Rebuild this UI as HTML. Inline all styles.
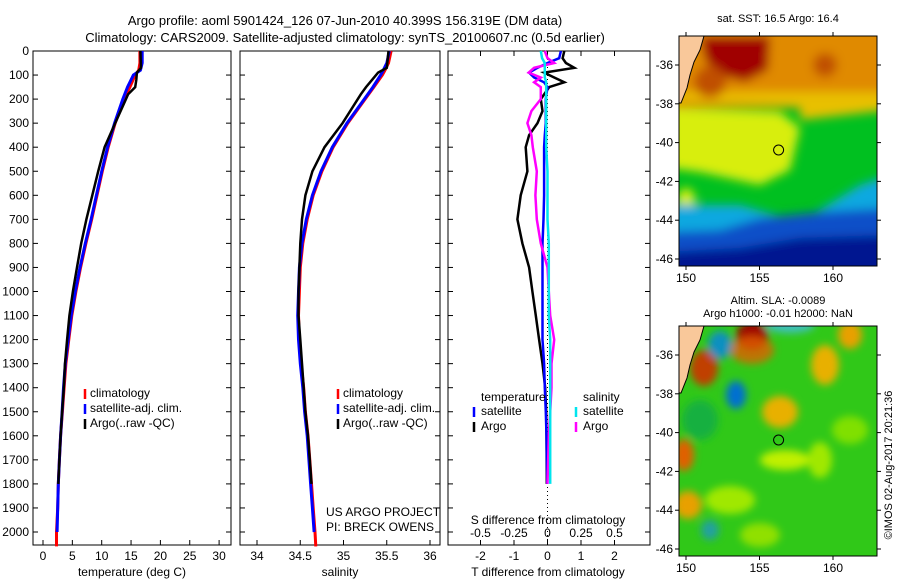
<!DOCTYPE html>
<html><head><meta charset="utf-8"><style>
body{margin:0;background:#fff;}
svg{display:block;font-family:"Liberation Sans",sans-serif;}
text{font-size:12px;fill:#000;}
</style></head><body>
<svg id="fig" width="900" height="580" viewBox="0 0 900 580">
<defs>
<filter id="blur" x="-20%" y="-20%" width="140%" height="140%"><feGaussianBlur stdDeviation="5"/></filter>
<filter id="blur2" x="-20%" y="-20%" width="140%" height="140%"><feGaussianBlur stdDeviation="4"/></filter>
<clipPath id="c1"><rect x="679" y="36" width="198" height="230"/></clipPath>
<clipPath id="c2"><rect x="679" y="326" width="198" height="230"/></clipPath>
</defs>
<text x="345" y="25" text-anchor="middle" style="font-size:13px">Argo profile: aoml 5901424_126 07-Jun-2010 40.399S 156.319E (DM data)</text>
<text x="345" y="42" text-anchor="middle" style="font-size:13px">Climatology: CARS2009. Satellite-adjusted climatology: synTS_20100607.nc (0.5d earlier)</text>

<g id="maps">
 <g clip-path="url(#c1)">
  <rect x="679" y="36" width="198" height="230" fill="#00c020"/>
  <g filter="url(#blur)">
   <rect x="670" y="20" width="220" height="88" fill="#e08a00"/>
   <path d="M670,100 L800,106 L800,120 L890,110 L890,92 L670,92Z" fill="#e8c000"/>
   <path d="M670,108 L780,112 L800,128 L790,170 L760,185 L700,172 L670,168Z" fill="#d8ee10"/>
   <path d="M700,36 L770,36 L768,70 L745,82 L720,75 L705,60Z" fill="#a00000"/>
   <ellipse cx="710" cy="82" rx="16" ry="16" fill="#c05000"/>
   <ellipse cx="825" cy="65" rx="12" ry="12" fill="#c05000"/>
   <ellipse cx="686" cy="200" rx="9" ry="12" fill="#d8ee10"/>
   <path d="M670,205 L740,205 L800,222 L860,185 L890,175 L890,280 L670,280Z" fill="#10a8e0"/>
   <path d="M670,232 L720,230 L760,218 L820,212 L890,208 L890,280 L670,280Z" fill="#0850c8"/>
   <path d="M670,252 L740,248 L800,238 L890,235 L890,280 L670,280Z" fill="#001490"/>
  </g>
  <path d="M679,36 L704,36 L700,50 L694,62 L690,75 L687,88 L681,103 L679,103Z" fill="#f9c89a" stroke="#000" stroke-width="1"/>
  <circle cx="778.6" cy="150" r="5" fill="none" stroke="#000"/>
 </g>
 <rect x="679" y="36" width="198" height="230" fill="none" stroke="#000"/>
 <text x="778" y="22" text-anchor="middle" style="font-size:11px">sat. SST: 16.5  Argo: 16.4</text>

 <g clip-path="url(#c2)">
  <rect x="679" y="326" width="198" height="230" fill="#30c818"/>
  <g filter="url(#blur2)">
   <ellipse cx="752" cy="336" rx="16" ry="14" fill="#a00000"/>
   <ellipse cx="752" cy="350" rx="22" ry="14" fill="#e06000" opacity="0.8"/>
   <ellipse cx="704" cy="368" rx="14" ry="18" fill="#c04000"/>
   <ellipse cx="720" cy="345" rx="12" ry="14" fill="#1090c0"/>
   <ellipse cx="736" cy="395" rx="10" ry="14" fill="#0070d0"/>
   <ellipse cx="780" cy="412" rx="18" ry="16" fill="#e8b000"/>
   <ellipse cx="825" cy="365" rx="14" ry="20" fill="#e8b000"/>
   <ellipse cx="850" cy="335" rx="12" ry="14" fill="#e8a000"/>
   <ellipse cx="790" cy="325" rx="25" ry="8" fill="#40c0c0"/>
   <ellipse cx="684" cy="455" rx="10" ry="16" fill="#e06000"/>
   <ellipse cx="688" cy="505" rx="14" ry="14" fill="#e8a000"/>
   <ellipse cx="710" cy="530" rx="9" ry="10" fill="#20a0a0"/>
   <ellipse cx="785" cy="460" rx="25" ry="10" fill="#c0f000"/>
   <ellipse cx="820" cy="460" rx="12" ry="18" fill="#a0e800"/>
   <ellipse cx="730" cy="500" rx="25" ry="14" fill="#a0e800"/>
   <ellipse cx="760" cy="535" rx="20" ry="12" fill="#90e000"/>
   <ellipse cx="850" cy="430" rx="18" ry="14" fill="#80e000"/>
   <ellipse cx="700" cy="420" rx="18" ry="20" fill="#18b040"/>
  </g>
  <path d="M679,326 L704,326 L700,340 L694,352 L690,365 L687,378 L681,393 L679,393Z" fill="#f9c89a" stroke="#000" stroke-width="1"/>
  <circle cx="778.6" cy="440" r="5" fill="none" stroke="#000"/>
 </g>
 <rect x="679" y="326" width="198" height="230" fill="none" stroke="#000"/>
 <text x="778" y="304" text-anchor="middle" style="font-size:11px">Altim. SLA: -0.0089</text>
 <text x="778" y="317" text-anchor="middle" style="font-size:11px">Argo h1000: -0.01 h2000: NaN</text>
 <text transform="translate(892,465) rotate(-90)" text-anchor="middle" style="font-size:11px">©IMOS 02-Aug-2017 20:21:36</text>
</g>
</svg>
<script>
const depths=[0,50,80,100,150,200,300,400,500,600,700,800,900,1000,1100,1200,1300,1400,1500,1600,1700,1800,1900,2000,2060];
const tempClim=[16.5,16.5,16.3,15.7,14.8,13.8,12.3,11.1,10.1,9.2,8.3,7.3,6.4,5.6,4.9,4.4,3.9,3.6,3.3,3.0,2.8,2.6,2.5,2.3,2.3];
const tempSat=[16.9,16.9,16.6,15.4,14.4,13.6,12.2,11.0,10.0,9.1,8.2,7.2,6.3,5.5,4.8,4.3,3.8,3.5,3.25,3.0,2.8,2.6,2.5,2.4];
const argoDepths=[0,70,90,120,150,180,300,400,500,600,700,800,900,1000,1100,1200,1300,1400,1500,1600,1700,1800];
const tempArgo=[16.6,16.7,16.0,15.9,15.7,14.5,12.3,10.5,9.4,8.4,7.4,6.5,5.8,5.1,4.5,4.1,3.75,3.55,3.25,3.0,2.8,2.6];
const salClim=[35.55,35.52,35.48,35.45,35.35,35.25,35.05,34.88,34.75,34.65,34.58,34.53,34.5,34.49,34.48,34.49,34.51,34.54,34.56,34.59,34.61,34.63,34.65,34.67,34.68];
const salSat=[35.53,35.5,35.46,35.43,35.34,35.24,35.04,34.87,34.74,34.64,34.57,34.52,34.49,34.48,34.47,34.48,34.5,34.53,34.55,34.58,34.6,34.62,34.64,34.66];
const salArgo=[35.52,35.5,35.4,35.33,35.26,35.2,34.99,34.78,34.64,34.56,34.52,34.5,34.49,34.48,34.48,34.5,34.52,34.54,34.56,34.59,34.61,34.63];
const diffDepths=[0,30,50,70,90,110,130,150,200,250,300,350,400,500,600,700,800,900,1000,1100,1200,1300,1400,1500,1600,1800];
const tDiffArgo=[0.5,0.45,0.55,0.8,-0.1,0.2,0.5,0.05,-0.2,-0.15,-0.3,-0.55,-0.65,-0.6,-0.8,-0.9,-0.75,-0.55,-0.45,-0.35,-0.25,-0.15,-0.07,-0.04,-0.03,-0.02];
const tDiffSat=[0.4,0.35,0.0,-0.3,-0.55,-0.4,-0.1,0,-0.05,-0.05,-0.05,-0.08,-0.1,-0.1,-0.1,-0.12,-0.15,-0.15,-0.15,-0.15,-0.15,-0.1,-0.08,-0.05,-0.03,-0.01];
const sDiffArgo=[-0.02,0.0,0.05,-0.1,-0.14,-0.05,-0.1,-0.05,-0.05,-0.12,-0.15,-0.12,-0.11,-0.08,-0.09,-0.08,-0.05,0.0,0.01,0.02,0.05,0.03,0.03,0.02,0.01,0.0];
const sDiffSat=[-0.05,-0.04,-0.02,-0.02,-0.02,-0.02,-0.01,-0.01,-0.01,-0.01,-0.01,-0.01,-0.01,0,0,0,0.01,0.01,0.01,0.01,0.02,0.02,0.02,0.02,0.02,0.02];
const depthTicks=[0,100,200,300,400,500,600,700,800,900,1000,1100,1200,1300,1400,1500,1600,1700,1800,1900,2000];
const tempTicks=[0,5,10,15,20,25,30];
const salTicks=[34,34.5,35,35.5,36];
const tdTicks=[-2,-1,0,1,2];
const sdTicks=[-0.5,-0.25,0,0.25,0.5];
const sdTickLabels=["-0.5","-0.25","0","0.25","0.5"];

const NS='http://www.w3.org/2000/svg';
const svg=document.getElementById('fig');
const Y=d=>51+d*0.2405;
const xT=t=>43+t*5.87;
const xS=s=>257+(s-34)*86.5;
const xTD=v=>547.5+v*33.5;
const xSD=v=>547.5+v*134;
function mk(tag,attrs,parent){const e=document.createElementNS(NS,tag);for(const k in attrs)e.setAttribute(k,attrs[k]);(parent||svg).appendChild(e);return e;}
function line(xs,ds,xf,color,w,name,parent){
 const pts=xs.map((v,i)=>xf(v).toFixed(1)+','+Y(ds[i]).toFixed(1)).join(' ');
 const p=mk('polyline',{points:pts,fill:'none',stroke:color,'stroke-width':w},parent);
 
 
}
function txt(x,y,s,anchor,parent){const t=mk('text',{x:x,y:y,'text-anchor':anchor||'start'},parent);t.textContent=s;return t;}
function panel(x0,x1,name){
 const g=mk('g',{});
 
 
 mk('rect',{x:x0,y:51,width:x1-x0,height:494,fill:'none',stroke:'#000'},g);
 depthTicks.forEach(d=>{mk('line',{x1:x0,x2:x0+5,y1:Y(d),y2:Y(d),stroke:'#000'},g);mk('line',{x1:x1-5,x2:x1,y1:Y(d),y2:Y(d),stroke:'#000'},g);});
 return g;
}
const p1=panel(33,231,'temperature-panel');
depthTicks.forEach(d=>{const t=txt(29,Y(d)+4,String(d),'end',p1);});
tempTicks.forEach(v=>{mk('line',{x1:xT(v),x2:xT(v),y1:545,y2:540,stroke:'#000'},p1);const t=txt(xT(v),560,String(v),'middle',p1);});
txt(132,576,'temperature (deg C)','middle',p1);
line(tempClim,depths,xT,'#ff0000',3,'temp-climatology',p1);
line(tempSat,depths,xT,'#0000ff',3,'temp-satellite-clim',p1);
line(tempArgo,argoDepths,xT,'#000',2.5,'temp-argo',p1);
const p2=panel(240,440,'salinity-panel');
salTicks.forEach(v=>{mk('line',{x1:xS(v),x2:xS(v),y1:545,y2:540,stroke:'#000'},p2);const t=txt(xS(v),560,String(v),'middle',p2);});
txt(340,576,'salinity','middle',p2);
line(salClim,depths,xS,'#ff0000',3,'sal-climatology',p2);
line(salSat,depths,xS,'#0000ff',3,'sal-satellite-clim',p2);
line(salArgo,argoDepths,xS,'#000',2.5,'sal-argo',p2);
txt(326,516,'US ARGO PROJECT','start',p2);
txt(326,531,'PI: BRECK OWENS','start',p2);
[[p1,85],[p2,338]].forEach(([g,x])=>{
 [['#ff0000','climatology',397],['#0000ff','satellite-adj. clim.',412],['#000','Argo(..raw -QC)',427]].forEach(([c,s,y])=>{
  mk('line',{x1:x,x2:x,y1:y-8,y2:y+2,stroke:c,'stroke-width':2.5},g);
  const t=txt(x+5,y,s,'start',g);
 });
});
const p3=panel(448,650,'difference-panel');
mk('line',{x1:547.5,x2:547.5,y1:51,y2:545,stroke:'#000','stroke-dasharray':'1,3'},p3);
sdTicks.forEach((v,i)=>{mk('line',{x1:xSD(v),x2:xSD(v),y1:51,y2:56,stroke:'#000'},p3);const t=txt(xSD(v),537,sdTickLabels[i],'middle',p3);});
tdTicks.forEach(v=>{mk('line',{x1:xTD(v),x2:xTD(v),y1:545,y2:540,stroke:'#000'},p3);const t=txt(xTD(v),560,String(v),'middle',p3);});
txt(548,524,'S difference from climatology','middle',p3);
txt(548,576,'T difference from climatology','middle',p3);
line(tDiffArgo,diffDepths,xTD,'#000',2.5,'tdiff-argo',p3);
line(tDiffSat,diffDepths,xTD,'#0000ff',2.5,'tdiff-satellite',p3);
line(sDiffArgo,diffDepths,xSD,'#ff00ff',2.5,'sdiff-argo',p3);
line(sDiffSat,diffDepths,xSD,'#00e5ee',2.5,'sdiff-satellite',p3);
txt(481,401,'temperature','start',p3);
txt(583,401,'salinity','start',p3);
[['#0000ff','satellite',415,'#00e5ee'],['#000','Argo',430,'#ff00ff']].forEach(([c,s,y,c2])=>{
 mk('line',{x1:474,x2:474,y1:y-8,y2:y+2,stroke:c,'stroke-width':2.5},p3);
 txt(481,y,s,'start',p3);
 mk('line',{x1:576,x2:576,y1:y-8,y2:y+2,stroke:c2,'stroke-width':2.5},p3);
 txt(583,y,s,'start',p3);
});
const lonTicks=[150,155,160];
const latTicks=[-36,-38,-40,-42,-44,-46];
[[36,266,65],[326,556,355]].forEach(([top,bot,lat0])=>{
 const g=mk('g',{});
 
 
 lonTicks.forEach(v=>{const x=686+(v-150)*14.7;mk('line',{x1:x,x2:x,y1:top,y2:top-4,stroke:'#000'},g);mk('line',{x1:x,x2:x,y1:bot,y2:bot+4,stroke:'#000'},g);txt(x,bot+16,String(v),'middle',g);});
 latTicks.forEach(v=>{const y=lat0+(-36-v)*19.4;mk('line',{x1:675,x2:679,y1:y,y2:y,stroke:'#000'},g);mk('line',{x1:877,x2:881,y1:y,y2:y,stroke:'#000'},g);txt(673,y+4,String(v),'end',g);});
});
</script>
</body></html>
